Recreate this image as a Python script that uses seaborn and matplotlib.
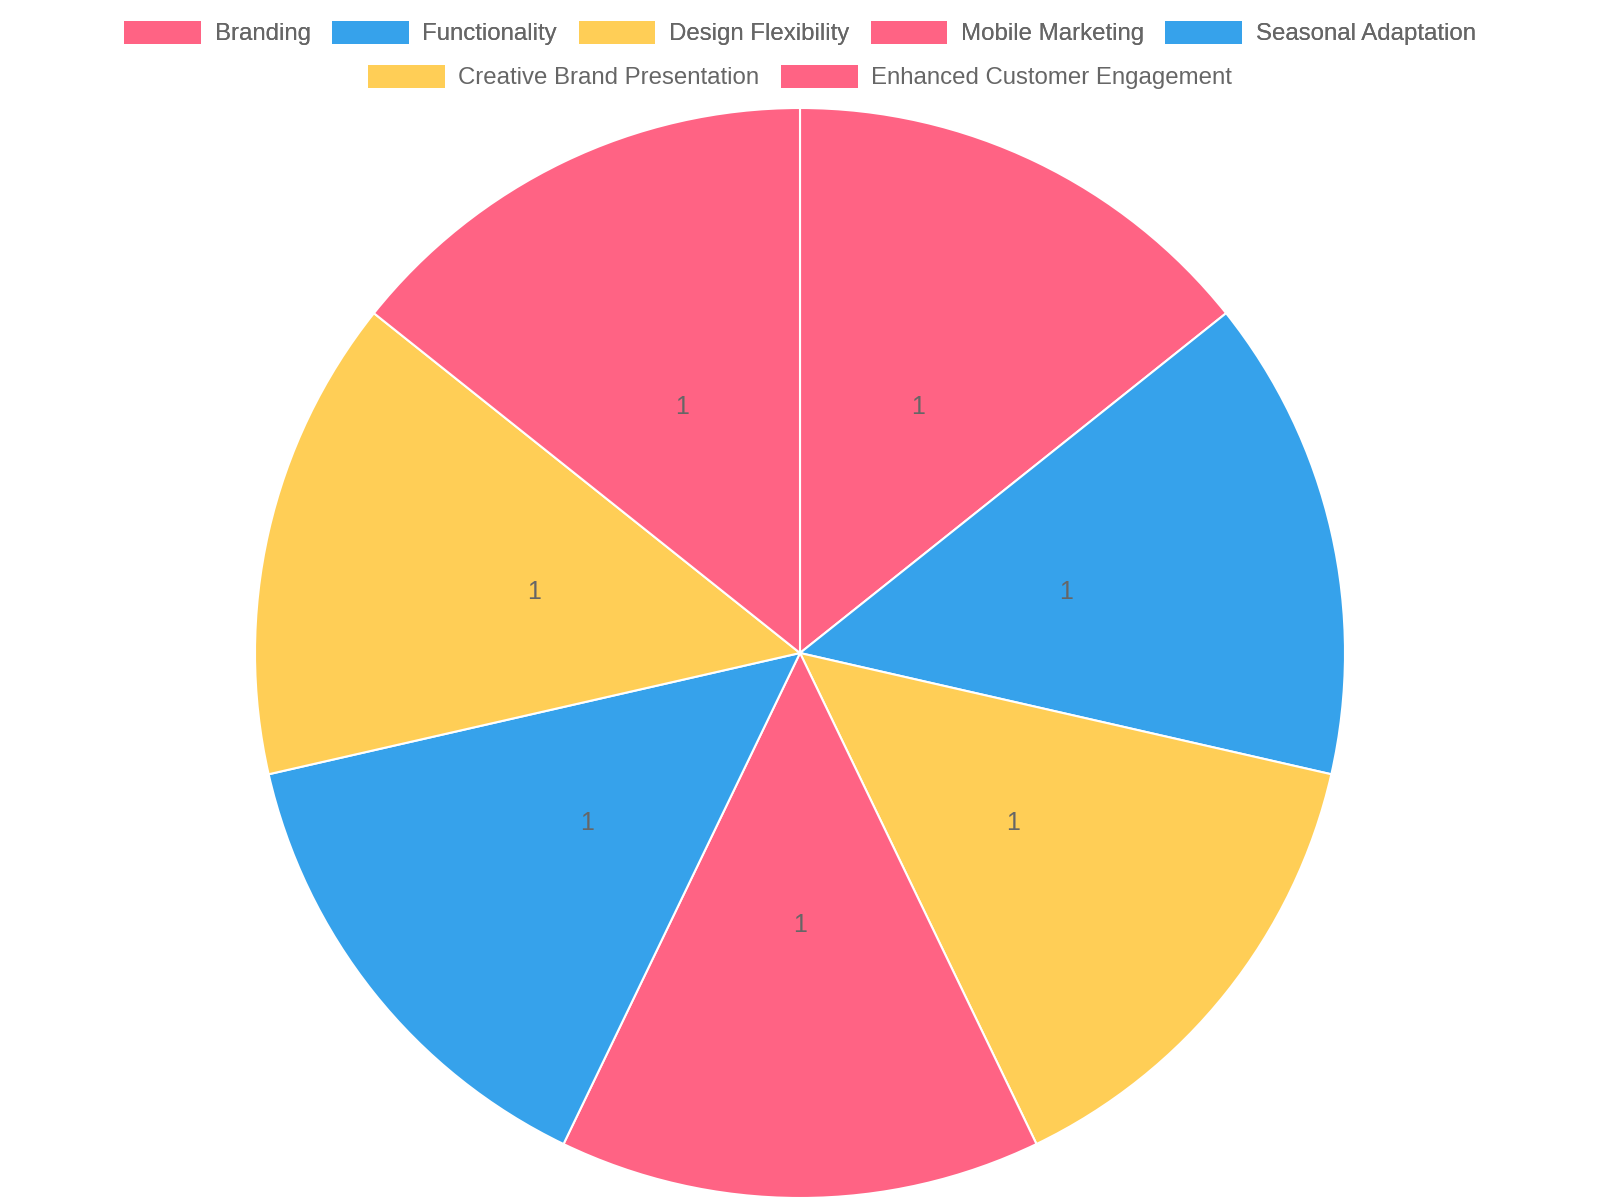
import matplotlib
matplotlib.use("Agg")
import matplotlib.pyplot as plt
import seaborn as sns
from matplotlib.patches import Patch

# chart data
categories = ["Branding", "Functionality", "Design Flexibility", "Mobile Marketing",
              "Seasonal Adaptation", "Creative Brand Presentation", "Enhanced Customer Engagement"]
values = [1, 1, 1, 1, 1, 1, 1]
colors = ["#FF6384", "#36A2EB", "#FFCE56", "#FF6384", "#36A2EB", "#FFCE56", "#FF6384"]

sns.set_theme(style="white")
plt.rcParams['font.family'] = ['Liberation Sans', 'DejaVu Sans']

fig = plt.figure(figsize=(16, 12), dpi=100)
# pie: centre (800, 653) px, radius ~545 px
r = 545
ax = fig.add_axes([(800 - r) / 1600, (1200 - 653 - r) / 1200, 2 * r / 1600, 2 * r / 1200])
total = sum(values)
wedges, texts, autotexts = ax.pie(values, colors=colors, startangle=90, counterclock=False, radius=1,
                                  wedgeprops=dict(edgecolor="white", linewidth=1.5),
                                  autopct=lambda p: f"{round(p * total / 100):d}", pctdistance=0.5)
for t in autotexts:
    t.set_fontsize(18)
    t.set_color("#666666")
ax.set_xlim(-1, 1)
ax.set_ylim(-1, 1)
ax.axis("off")

# legend: two centred rows
handles = [Patch(facecolor=c, edgecolor="none") for c in colors]
leg_kw = dict(frameon=False, fontsize=17.3, labelcolor="#666666", handlelength=3.2,
              handleheight=1.1, handletextpad=0.55, columnspacing=0.9, borderpad=0,
              borderaxespad=0, loc="center")
leg1 = fig.legend(handles[:5], categories[:5], ncol=5, bbox_to_anchor=(0.5, 1 - 33 / 1200), **leg_kw)
fig.add_artist(leg1)
fig.legend(handles[5:], categories[5:], ncol=2, bbox_to_anchor=(0.5, 1 - 77 / 1200), **leg_kw)

fig.savefig("out.png", dpi=100, facecolor="white")
